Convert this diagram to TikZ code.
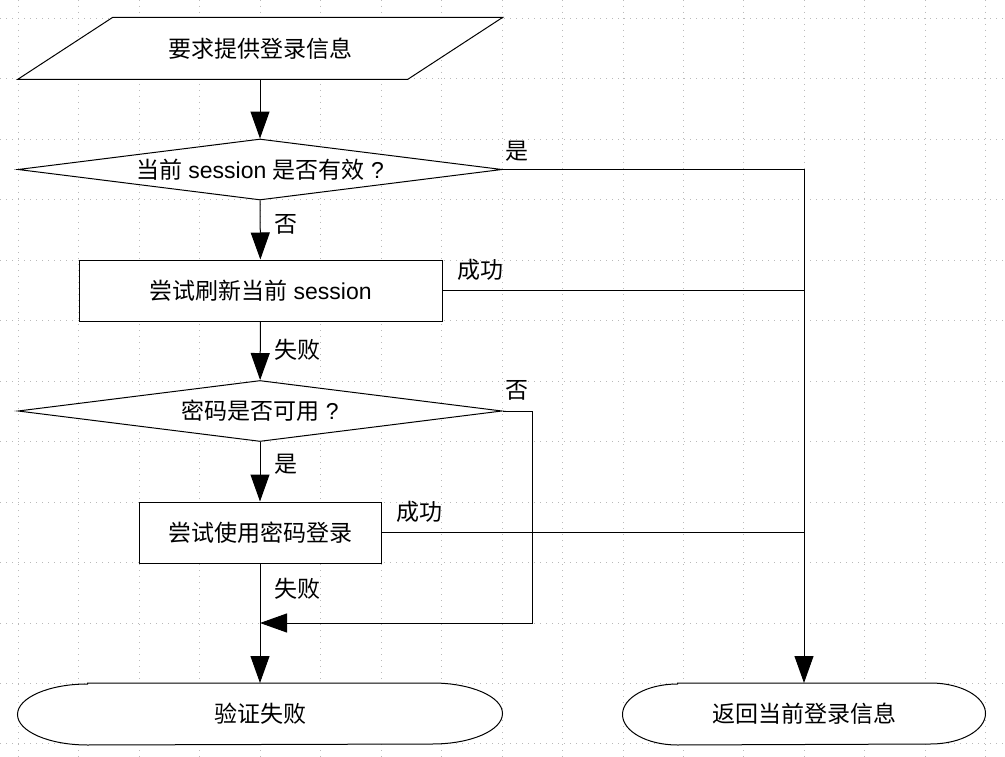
\documentclass[tikz,border=0pt]{standalone}
\usepackage{fontspec}
\setmainfont{Liberation Sans}
\newfontfamily\cjk{Noto Sans CJK SC}
\usetikzlibrary{arrows.meta,backgrounds,shapes.geometric}

\tikzstyle{base}=[draw,fill=white,line width=1pt,inner sep=0pt,minimum height=61pt,font=\fontsize{23}{27}\selectfont]
\tikzstyle{outline}=[base,draw=none,fill=none]
\tikzstyle{decision}=[base,diamond,aspect=7.9,minimum width=484pt]
\tikzstyle{process}=[base,rectangle]
\tikzstyle{edge}=[draw,line width=1pt,-]
\tikzstyle{arrow}=[edge,-{Triangle[length=27pt,width=19pt]}]
\tikzstyle{weight}=[font=\cjk\fontsize{23}{27}\selectfont,inner sep=2pt]
\tikzstyle{gridline}=[gray!55,line width=0.8pt,dash pattern=on 1pt off 5pt]

\begin{document}
\begin{tikzpicture}[x=1pt,y=1pt]
    \useasboundingbox (0,0) rectangle (1005,-757);
    % dotted page grid
    \begin{scope}[on background layer]
        \fill[white] (0,0) rectangle (1005,-757);
        \foreach \i in {0,...,16}
            \draw[gridline] (18.4+60.45*\i,0) -- ++(0,-757);
        \foreach \j in {0,...,12}
            \draw[gridline] (0,-18.4-60.45*\j) -- ++(1005,0);
    \end{scope}
    % First we draw the shapes
    \node[outline,minimum width=484pt] (ask) at (260,-48.5) {\cjk 要求提供登录信息};
    \node[decision] (valid) at (260,-169.5) {{\cjk 当前} session {\cjk 是否有效} ?};
    \node[process,minimum width=363pt] (refresh) at (260.5,-290.5) {{\cjk 尝试刷新当前} session};
    \node[decision] (usable) at (260,-411) {{\cjk 密码是否可用} ?};
    \node[process,minimum width=242pt] (login) at (260,-532.5) {\cjk 尝试使用密码登录};
    \node[outline,minimum width=484pt] (fail) at (260,-714) {\cjk 验证失败};
    \node[outline,minimum width=362pt] (done) at (804,-714) {\cjk 返回当前登录信息};
    \coordinate (merge) at (260,-623);
    % outlines of the input and end shapes sit under their text
    \begin{scope}[on background layer]
        \draw[line width=1pt,fill=white] (ask.south west) -- ([xshift=-95]ask.south east)
            -- (ask.north east) -- ([xshift=95]ask.north west) -- cycle;
        \foreach \t/\r in {fail/70,done/55}
            \draw[line width=1pt,fill=white] ([xshift=\r]\t.north west) -- ([xshift=-\r]\t.north east)
                arc[start angle=90,end angle=-90,x radius=\r,y radius=30.5]
                -- ([xshift=\r]\t.south west)
                arc[start angle=270,end angle=90,x radius=\r,y radius=30.5] -- cycle;
    \end{scope}
    % Connect shapes with edges and draw labels
    \path[arrow] (ask) -- (valid);
    \path[arrow] (valid.east) -| node[weight,pos=0,anchor=south west,yshift=6pt] {是} (done.north);
    \path[arrow] (valid) -- node[weight,right,pos=0.4,xshift=12pt] {否} (refresh);
    \path[edge] (refresh.east) -- node[weight,pos=0,anchor=south west,xshift=12pt,yshift=7pt] {成功} (refresh.east -| done.north);
    \path[arrow] (refresh) -- node[weight,right,pos=0.48,xshift=12pt] {失败} (usable);
    \path[arrow] (usable.east) -- node[weight,pos=0,anchor=south west,yshift=8pt] {否} ++(30,0) |- (merge);
    \path[arrow] (usable) -- node[weight,right,pos=0.38,xshift=12pt] {是} (login);
    \path[edge] (login.east) -- node[weight,pos=0,anchor=south west,xshift=12pt,yshift=8pt] {成功} (login.east -| done.north);
    \path[arrow] (login) -- node[weight,right,pos=0.21,xshift=12pt] {失败} (fail);
\end{tikzpicture}
\end{document}
